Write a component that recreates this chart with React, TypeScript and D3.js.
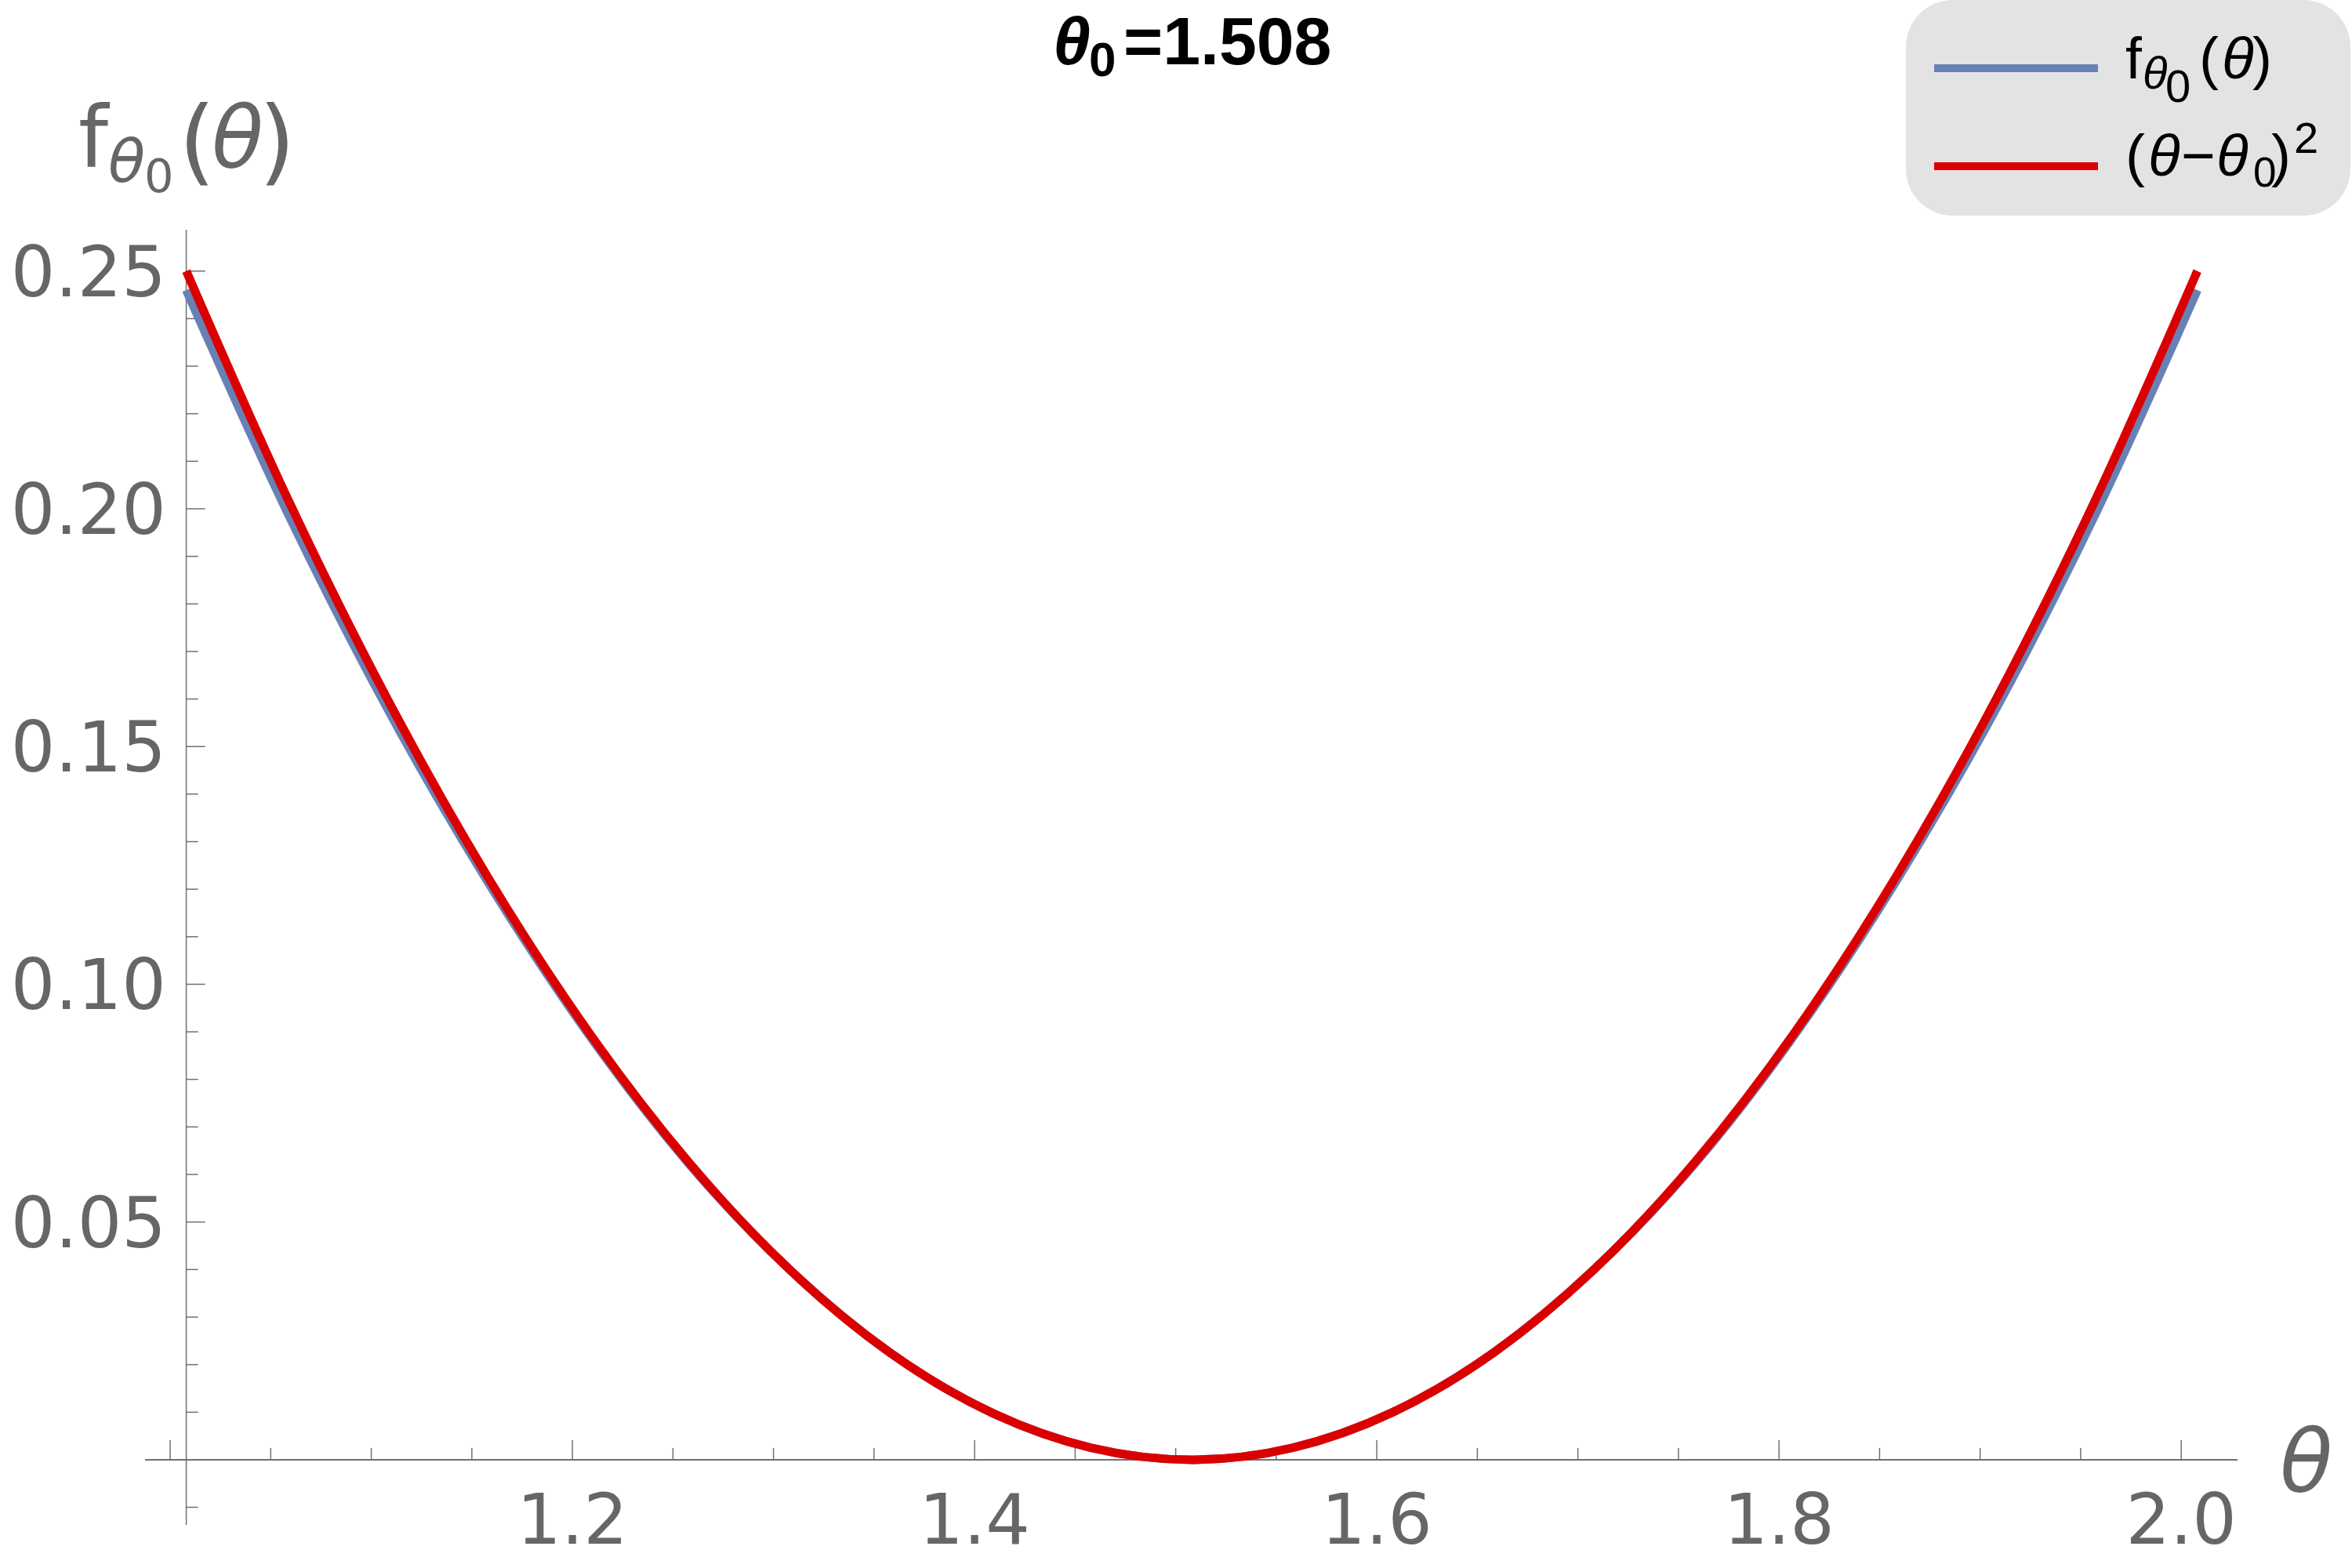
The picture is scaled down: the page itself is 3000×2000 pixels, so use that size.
import React, { useEffect, useRef } from 'react';
import * as d3 from 'd3';

// sample points along theta (theta0 - 0.5 .. theta0 + 0.5)
const theta0 = 1.508;
const thetaValues = [
  1.008, 1.058, 1.108, 1.158, 1.208, 1.258, 1.308, 1.358, 1.408, 1.458, 1.508,
  1.558, 1.608, 1.658, 1.708, 1.758, 1.808, 1.858, 1.908, 1.958, 2.008,
];
// f_theta0(theta), blue
const fValues = [
  0.246, 0.1995, 0.158, 0.1215, 0.0895, 0.0622, 0.04, 0.0225, 0.01, 0.0025, 0,
  0.0025, 0.01, 0.0225, 0.04, 0.0622, 0.0895, 0.1215, 0.158, 0.1995, 0.246,
];
// (theta - theta0)^2, red
const squareValues = [
  0.25, 0.2025, 0.16, 0.1225, 0.09, 0.0625, 0.04, 0.0225, 0.01, 0.0025, 0,
  0.0025, 0.01, 0.0225, 0.04, 0.0625, 0.09, 0.1225, 0.16, 0.2025, 0.25,
];
const xMajorTicks = [1.0, 1.2, 1.4, 1.6, 1.8, 2.0];
const xTickLabels = ['1.2', '1.4', '1.6', '1.8', '2.0'];
const yTickLabels = ['0.05', '0.10', '0.15', '0.20', '0.25'];

const AXIS = '#707070';
const LABEL = '#666666';
const BLUE = '#6881b5';
const RED = '#db0000';
const TICK_FONT = '"DejaVu Sans", sans-serif';
const LEGEND_FONT = '"Liberation Sans", Arial, sans-serif';

const Chart = () => {
  const svgRef = useRef<SVGSVGElement | null>(null);

  useEffect(() => {
    const svg = d3.select(svgRef.current);
    svg.selectAll('*').remove();

    const x = d3.scaleLinear().domain([0.9875, 2.028]).range([185, 2854]);
    const y = d3.scaleLinear().domain([-0.0137, 0.2587]).range([1945, 293]);

    const axes = svg.append('g');
    // x axis
    axes.append('line')
      .attr('x1', x(0.9875)).attr('x2', x(2.028))
      .attr('y1', y(0)).attr('y2', y(0))
      .attr('stroke', AXIS).attr('stroke-width', 2);
    // y axis
    axes.append('line')
      .attr('x1', x(theta0 - 0.5)).attr('x2', x(theta0 - 0.5))
      .attr('y1', y(-0.0137)).attr('y2', y(0.2587))
      .attr('stroke', AXIS).attr('stroke-width', 1.5);

    // x ticks every 0.05
    const xTicks = d3.range(0, 21).map(i => ({ v: 1.0 + i * 0.05, major: i % 4 === 0 }));
    axes.selectAll('.xtick')
      .data(xTicks)
      .enter()
      .append('line')
      .attr('class', 'xtick')
      .attr('x1', d => x(d.v)).attr('x2', d => x(d.v))
      .attr('y1', y(0)).attr('y2', d => y(0) - (d.major ? 25 : 15))
      .attr('stroke', AXIS).attr('stroke-width', 1.5);

    axes.selectAll('.xlabel')
      .data(xTickLabels)
      .enter()
      .append('text')
      .attr('class', 'xlabel')
      .attr('x', (d, i) => x(xMajorTicks[i + 1]))
      .attr('y', 1969)
      .attr('text-anchor', 'middle')
      .style('font-family', TICK_FONT)
      .style('font-size', '89px')
      .attr('fill', LABEL)
      .text(d => d);

    // y ticks every 0.01
    const yTicks = d3.range(-1, 26).map(k => ({ v: k / 100, major: k % 5 === 0 }));
    axes.selectAll('.ytick')
      .data(yTicks)
      .enter()
      .append('line')
      .attr('class', 'ytick')
      .attr('x1', x(theta0 - 0.5)).attr('x2', d => x(theta0 - 0.5) + (d.major ? 24 : 15))
      .attr('y1', d => y(d.v)).attr('y2', d => y(d.v))
      .attr('stroke', AXIS).attr('stroke-width', 1.5);

    axes.selectAll('.ylabel')
      .data(yTickLabels)
      .enter()
      .append('text')
      .attr('class', 'ylabel')
      .attr('x', 212)
      .attr('y', d => y(+d))
      .attr('dy', '0.36em')
      .attr('text-anchor', 'end')
      .style('font-family', TICK_FONT)
      .style('font-size', '89px')
      .attr('fill', LABEL)
      .text(d => d);

    // curves
    const line = d3.line<number>()
      .x((d, i) => x(thetaValues[i]))
      .y(d => y(d))
      .curve(d3.curveMonotoneX);

    svg.append('path')
      .datum(fValues)
      .attr('fill', 'none')
      .attr('stroke', BLUE)
      .attr('stroke-width', 11)
      .attr('stroke-linejoin', 'round')
      .attr('d', line);

    svg.append('path')
      .datum(squareValues)
      .attr('fill', 'none')
      .attr('stroke', RED)
      .attr('stroke-width', 11)
      .attr('stroke-linejoin', 'round')
      .attr('d', line);

    // axis labels
    const yl = svg.append('text').attr('fill', LABEL).style('font-family', TICK_FONT);
    yl.append('tspan').attr('x', 100).attr('y', 213).style('font-size', '108px').text('f');
    yl.append('tspan').attr('x', 138).attr('y', 232).style('font-size', '77px').style('font-style', 'italic').text('θ');
    yl.append('tspan').attr('x', 184).attr('y', 245).style('font-size', '59px').text('0');
    yl.append('tspan').attr('x', 228).attr('y', 221).style('font-size', '120px').text('(');
    yl.append('tspan').attr('x', 270).attr('y', 213).style('font-size', '108px').style('font-style', 'italic').text('θ');
    yl.append('tspan').attr('x', 330).attr('y', 221).style('font-size', '120px').text(')');

    svg.append('text')
      .attr('x', 2908).attr('y', 1902)
      .attr('fill', LABEL)
      .style('font-family', TICK_FONT)
      .style('font-size', '110px')
      .style('font-style', 'italic')
      .text('θ');

    // title
    const title = svg.append('text')
      .attr('fill', '#000')
      .style('font-family', LEGEND_FONT)
      .style('font-weight', 'bold');
    title.append('tspan').attr('x', 1343).attr('y', 82).style('font-size', '86px').style('font-style', 'italic').text('θ');
    title.append('tspan').attr('x', 1389).attr('y', 97).style('font-size', '62px').text('0');
    title.append('tspan').attr('x', 1433).attr('y', 82).style('font-size', '86px').text('=1.508');

    // legend
    const legend = svg.append('g');
    legend.append('rect')
      .attr('x', 2431).attr('y', 0)
      .attr('width', 567).attr('height', 275)
      .attr('rx', 60).attr('ry', 60)
      .attr('fill', '#e3e3e3');

    const legendColors = [BLUE, RED];
    const legendY = [87, 212];
    legend.selectAll('.lline')
      .data(legendColors)
      .enter()
      .append('line')
      .attr('class', 'lline')
      .attr('x1', 2467).attr('x2', 2676)
      .attr('y1', (d, i) => legendY[i]).attr('y2', (d, i) => legendY[i])
      .attr('stroke', d => d)
      .attr('stroke-width', 10);

    const l1 = legend.append('text').attr('fill', '#000').style('font-family', LEGEND_FONT);
    l1.append('tspan').attr('x', 2711).attr('y', 100).style('font-size', '75px').text('f');
    l1.append('tspan').attr('x', 2733).attr('y', 113).style('font-size', '58px').style('font-style', 'italic').text('θ');
    l1.append('tspan').attr('x', 2762).attr('y', 130).style('font-size', '58px').text('0');
    l1.append('tspan').attr('x', 2805).attr('y', 100).style('font-size', '75px').text('(');
    l1.append('tspan').attr('x', 2834).attr('y', 100).style('font-size', '75px').style('font-style', 'italic').text('θ');
    l1.append('tspan').attr('x', 2873).attr('y', 100).style('font-size', '75px').text(')');

    const l2 = legend.append('text').attr('fill', '#000').style('font-family', LEGEND_FONT);
    l2.append('tspan').attr('x', 2711).attr('y', 224).style('font-size', '75px').text('(');
    l2.append('tspan').attr('x', 2740).attr('y', 224).style('font-size', '75px').style('font-style', 'italic').text('θ');
    l2.append('tspan').attr('x', 2782).attr('y', 224).style('font-size', '75px').text('−');
    l2.append('tspan').attr('x', 2827).attr('y', 224).style('font-size', '75px').style('font-style', 'italic').text('θ');
    l2.append('tspan').attr('x', 2874).attr('y', 238).style('font-size', '53px').text('0');
    l2.append('tspan').attr('x', 2897).attr('y', 224).style('font-size', '75px').text(')');
    l2.append('tspan').attr('x', 2926).attr('y', 195).style('font-size', '56px').text('2');
  }, []);

  return (
    <svg
      ref={svgRef}
      width={3000}
      height={2000}
      style={{ position: 'absolute', left: 0, top: 0, background: '#fff' }}
    />
  );
};

export default function App() {
  return <Chart />;
}
